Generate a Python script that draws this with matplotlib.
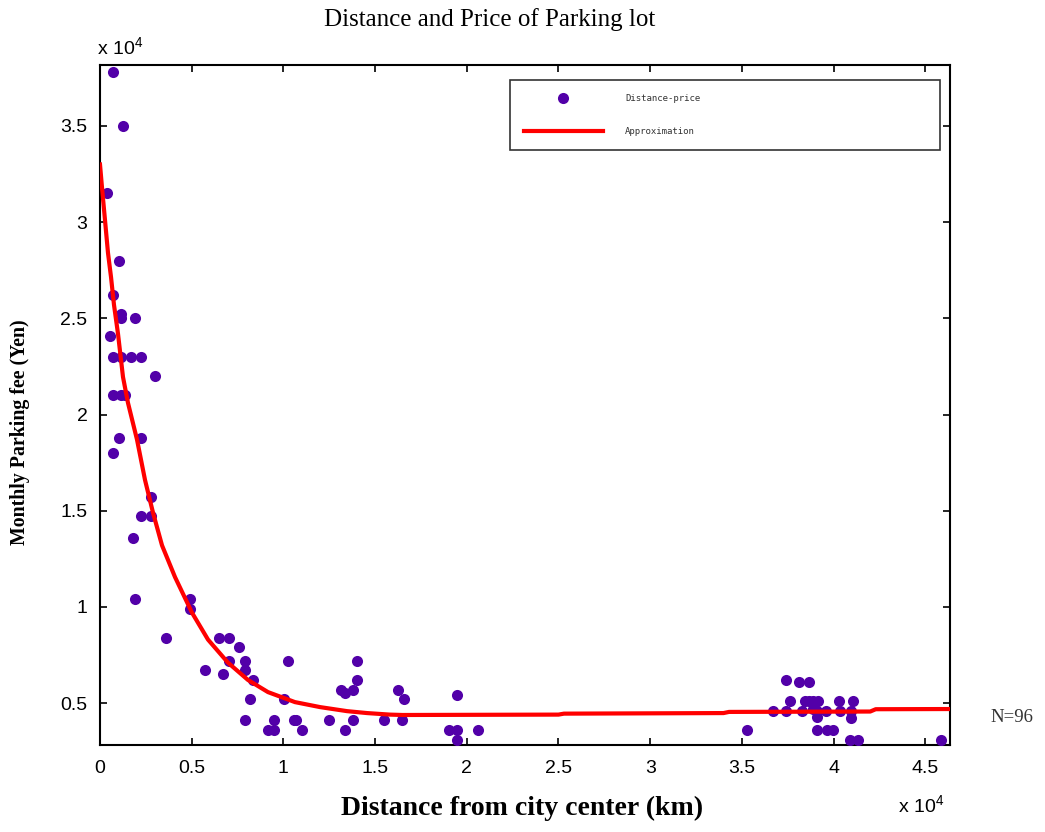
import matplotlib
matplotlib.use("Agg")
import matplotlib.pyplot as plt

# ---- data ----
dist_x = [709, 1254, 382, 1036, 709, 1145, 1145, 1909, 545, 709, 1145, 1690, 2236, 2999,
          709, 1145, 1363, 1036, 2236, 709, 2781, 2236, 2781, 1800,
          1909, 3600, 4908, 4908, 6490, 7034, 7580, 7034, 7907, 5726, 6707, 7907, 8343,
          10250, 8180, 10030, 7907, 9490, 9160, 9490, 10580,
          14015, 14015, 13140, 13360, 13800, 16250, 16580, 19470, 10690, 11015, 12490,
          13360, 13800, 15490, 16470, 19030, 19470, 19470, 20610,
          37410, 38120, 38660, 37630, 38450, 38660, 38880, 39150, 40300, 41060,
          36700, 37410, 38280, 39590, 40350, 40950, 39100, 40950, 35280, 39100,
          39640, 39970, 40900, 41330, 45860, 39100, 38900]
price_y = [37800, 35000, 31500, 28000, 26200, 25200, 25000, 25000, 24100, 23000, 23000, 23000, 23000, 22000,
           21000, 21000, 21000, 18800, 18800, 18000, 15700, 14700, 14700, 13600,
           10400, 8400, 10400, 9900, 8400, 8400, 7900, 7200, 7200, 6700, 6500, 6700, 6200,
           7200, 5200, 5200, 4100, 4100, 3600, 3600, 4100,
           7200, 6200, 5700, 5500, 5700, 5700, 5200, 5400, 4100, 3600, 4100,
           3600, 4100, 4100, 4100, 3600, 3600, 3100, 3600,
           6200, 6100, 6100, 5100, 5100, 5100, 5100, 5100, 5100, 5100,
           4600, 4600, 4600, 4600, 4600, 4600, 4300, 4200, 3600, 3600,
           3600, 3600, 3100, 3100, 3100, 4600, 4700]

fit_x = [0, 109, 273, 436, 600, 763, 981, 1254, 1527, 2017, 2454, 2890, 3381, 4090,
         5016, 5889, 6979, 8070, 9160, 10630, 12000, 13470, 14560, 15800, 16500,
         25000, 25300, 34000, 34300, 42000, 42300, 46350]
fit_y = [33000, 31800, 30100, 28400, 27150, 25700, 24200, 21950, 20600, 18700, 16600, 14900, 13200, 11550,
         9700, 8300, 7100, 6200, 5570, 5050, 4790, 4580, 4480, 4400, 4380,
         4400, 4450, 4480, 4540, 4560, 4680, 4690]

x_ticks = [0, 5000, 10000, 15000, 20000, 25000, 30000, 35000, 40000, 45000]
x_ticklabels = ["0", "0.5", "1", "1.5", "2", "2.5", "3", "3.5", "4", "4.5"]
y_ticks = [5000, 10000, 15000, 20000, 25000, 30000, 35000]
y_ticklabels = ["0.5", "1", "1.5", "2", "2.5", "3", "3.5"]

plt.rcParams["mathtext.default"] = "regular"
fig = plt.figure(figsize=(10.45, 8.32), dpi=100)
ax = fig.add_axes([100/1045, 1-745/832, 850/1045, 680/832])

ax.plot(dist_x, price_y, linestyle="none", marker="o", markersize=8,
        color="#5200A8", markeredgewidth=0, label="Distance-price", zorder=3)
ax.plot(fit_x, fit_y, color="#FF0000", linewidth=3, label="Approximation", zorder=4)

ax.set_xlim(0, 46350)
ax.set_ylim(2820, 38170)
ax.set_xticks(x_ticks)
ax.set_xticklabels(x_ticklabels, family="Liberation Sans", fontsize=14)
ax.set_yticks(y_ticks)
ax.set_yticklabels(y_ticklabels, family="Liberation Sans", fontsize=14)
ax.tick_params(direction="in", top=True, right=True, length=5, width=1.2)
ax.tick_params(axis="x", pad=11)
ax.tick_params(axis="y", pad=9)
for s in ax.spines.values():
    s.set_linewidth(1.5)
    s.set_color("black")

fig.text(490/1045, 1-20/832, "Distance and Price of Parking lot", ha="center", va="center",
         family="Liberation Serif", fontsize=18)
fig.text(522/1045, 1-808/832, "Distance from city center (km)", ha="center", va="center",
         family="Liberation Serif", fontsize=20, fontweight="bold")
fig.text(20/1045, 1-432/832, "Monthly Parking fee (Yen)", ha="center", va="center",
         family="Liberation Serif", fontsize=14.3, fontweight="bold", rotation=90)
fig.text(97/1045, 1-47/832, r"x 10$^{4}$", ha="left", va="center",
         family="Liberation Sans", fontsize=14)
fig.text(898/1045, 1-805/832, r"x 10$^{4}$", ha="left", va="center",
         family="Liberation Sans", fontsize=14)
fig.text(1012/1045, 1-718/832, "N=96", ha="center", va="center",
         family="Liberation Serif", fontsize=13.5, color="#333333")

leg = ax.legend(loc="upper left", bbox_to_anchor=(0.482, 0.878, 0.506, 0.1), mode="expand",
                prop={"family": "DejaVu Sans Mono", "size": 6.5}, frameon=True, fancybox=False,
                handlelength=8.7, handletextpad=2.5, labelspacing=2.6, borderpad=1.6,
                borderaxespad=0)
leg.get_frame().set_edgecolor("black")
leg.get_frame().set_linewidth(1.2)
for t in leg.get_texts():
    t.set_color("#333333")

fig.savefig("out.png", dpi=100)
